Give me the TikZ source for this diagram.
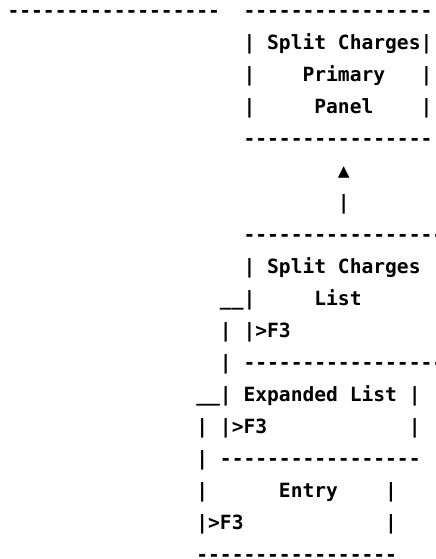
\documentclass[tikz,border=0pt]{standalone}
\usepackage{fontspec}
\newfontfamily\asciifont{DejaVu Sans Mono}[Ligatures=TeXOff]

\begin{document}
\begin{tikzpicture}[x=11.8pt,y=-32pt,
  txt/.style={anchor=base west,inner sep=0pt,outer sep=0pt,
    font=\asciifont\bfseries\fontsize{19.6pt}{32pt}\selectfont}]
\useasboundingbox (-0.644,-0.553) rectangle (36.305,16.916);
\clip (-0.644,-0.553) rectangle (36.305,16.916);

% Top rule and Split Charges Primary Panel
\node[txt] (ruleL) at (0,0) {------------------};
\node[txt] (ruleR) at (20,0) {----------------};
\node[txt] (pnlA) at (20,1) {|};
\node[txt] (pnlT) at (22,1) {Split Charges|};
\node[txt] (pnlB) at (20,2) {|};
\node[txt] (pnlP) at (25,2) {Primary};
\node[txt] (pnlC) at (35,2) {|};
\node[txt] (pnlD) at (20,3) {|};
\node[txt] (pnlQ) at (26,3) {Panel};
\node[txt] (pnlE) at (35,3) {|};
\node[txt] (pnlBot) at (20,4) {----------------};

% Arrow up to the panel
\node[txt] (tip) at (28,5) {▲};
\node[txt] (shaft) at (28,6) {|};

% Split Charges List
\node[txt] (lstTop) at (20,7) {-----------------};
\node[txt] (lstA) at (20,8) {|};
\node[txt] (lstT) at (22,8) {Split Charges};
\node[txt] (lstB) at (18,9) {\_\_|};
\node[txt] (lstQ) at (26,9) {List};
\node[txt] (lstC) at (18,10) {|};
\node[txt] (lstK) at (20,10) {|>F3};
\node[txt] (lstD) at (18,11) {|};
\node[txt] (lstBot) at (20,11) {-----------------};

% Expanded List
\node[txt] (expA) at (16,12) {\_\_|};
\node[txt] (expT) at (20,12) {Expanded List};
\node[txt] (expB) at (34,12) {|};
\node[txt] (expC) at (16,13) {|};
\node[txt] (expK) at (18,13) {|>F3};
\node[txt] (expD) at (34,13) {|};
\node[txt] (expE) at (16,14) {|};
\node[txt] (expBot) at (18,14) {-----------------};

% Entry
\node[txt] (entA) at (16,15) {|};
\node[txt] (entT) at (23,15) {Entry};
\node[txt] (entB) at (32,15) {|};
\node[txt] (entK) at (16,16) {|>F3};
\node[txt] (entC) at (32,16) {|};
\node[txt] (entBot) at (16,17) {-----------------};

\end{tikzpicture}
\end{document}
